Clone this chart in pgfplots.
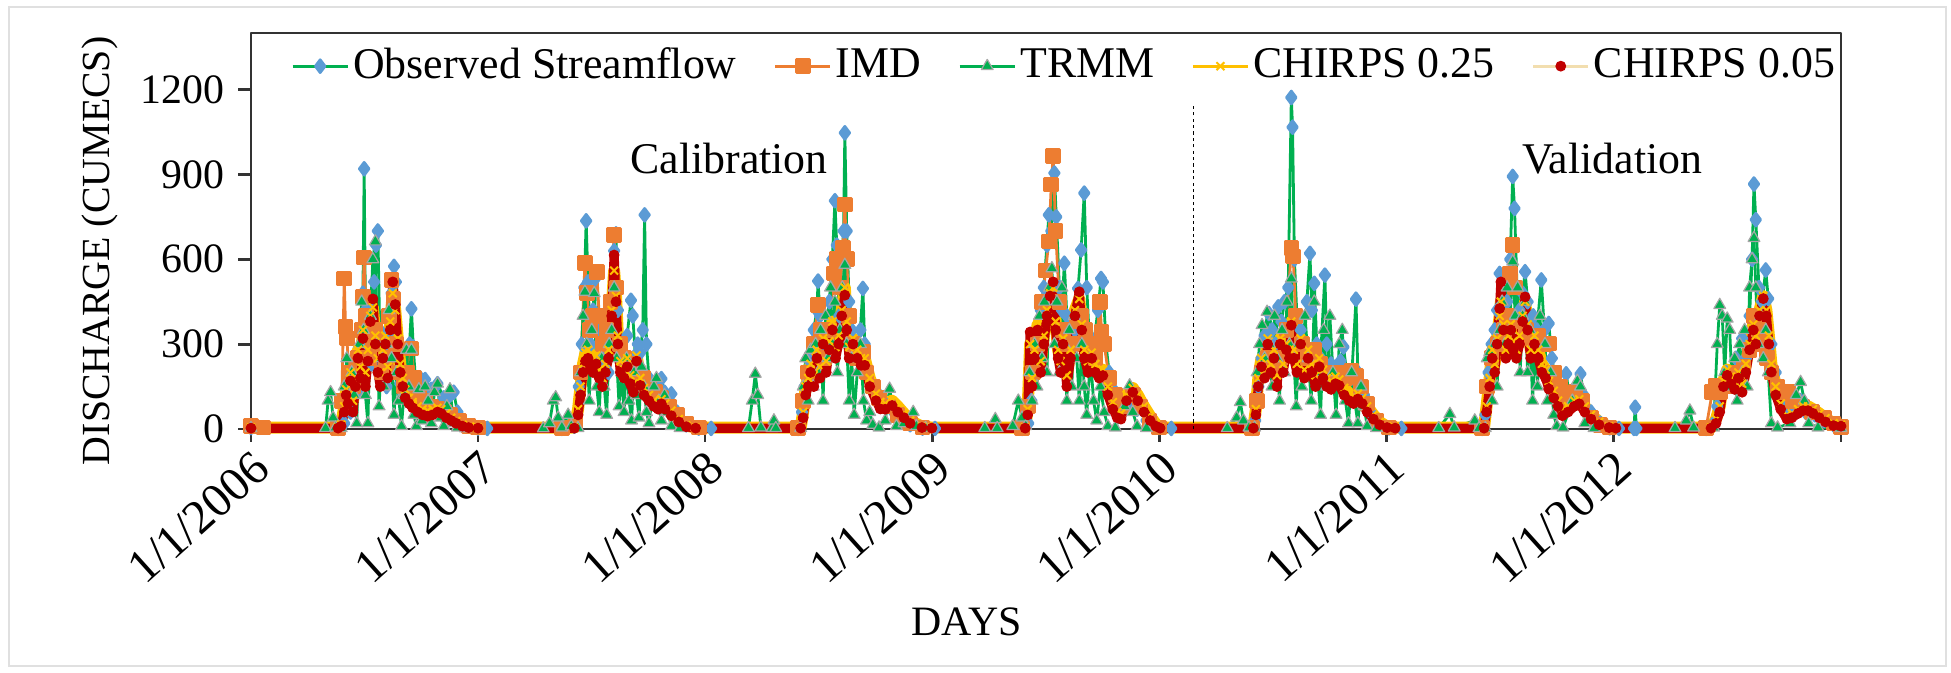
\documentclass[border=0pt]{standalone}
\usepackage{pgfplots}
\pgfplotsset{compat=1.18}
\usepackage{fontspec}
\setmainfont{Liberation Serif}
\definecolor{obsg}{RGB}{0,176,80}
\definecolor{obsb}{RGB}{91,155,213}
\definecolor{imd}{RGB}{237,125,49}
\definecolor{trmm}{RGB}{0,176,80}
\definecolor{ch25}{RGB}{255,192,0}
\definecolor{ch05}{RGB}{192,0,0}
\definecolor{ch05l}{RGB}{242,222,175}
\pgfplotsset{
  thinlegA/.style={legend image code/.code={\draw[mark repeat=2,mark phase=2,##1,line width=0.7bp] plot coordinates {(0bp,0bp) (6.9bp,0bp) (13.8bp,0bp)};}},
  thinlegB/.style={legend image code/.code={\draw[mark repeat=2,mark phase=2,##1,line width=0.7bp,color=ch05l] plot coordinates {(0bp,0bp) (6.9bp,0bp) (13.8bp,0bp)};}},
}
\begin{document}
\begin{tikzpicture}
\path[use as bounding box] (-62.75bp,-61bp) rectangle (425bp,107.25bp);
\draw[black!12, line width=0.5bp] (-60.5bp,-59.25bp) rectangle (423.75bp,105.5bp);
\begin{axis}[
  at={(0,0)}, anchor=south west,
  scale only axis, width=397.5bp, height=99bp,
  xmin=0, xmax=2557, ymin=0, ymax=1400,
  clip=false,
  axis line style={black!80, line width=0.7bp},
  tick style={black!80, line width=0.7bp},
  tick align=outside, major tick length=3.2bp,
  xtick pos=bottom, ytick pos=left,
  xtick={0,365,730,1096,1461,1826,2191,2557},
  xticklabels={1/1/2006,1/1/2007,1/1/2008,1/1/2009,1/1/2010,1/1/2011,1/1/2012,{}},
  ytick={0,300,600,900,1200},
  /pgf/number format/assume math mode=true,
  /pgf/number format/1000 sep={},
  xticklabel style={rotate=42, anchor=north east, font=\fontsize{12}{14}\selectfont, inner sep=1bp},
  yticklabel style={font=\fontsize{10.5}{12}\selectfont},
  xlabel={DAYS},
  xlabel style={at={(axis description cs:0.45,-0.487)}, anchor=center, font=\fontsize{10.5}{12}\selectfont},
  ylabel={DISCHARGE (CUMECS)},
  ylabel style={at={(axis description cs:-0.095,0.45)}, anchor=center, font=\fontsize{10}{12}\selectfont},
  legend columns=5,
  legend style={at={(0.512,0.995)}, anchor=north, draw=none, fill=none,
    font=\fontsize{11}{13}\selectfont, nodes={inner sep=1bp},
    /tikz/every even column/.append style={column sep=8.3bp}},
  legend image code/.code={\draw[mark repeat=2,mark phase=2,#1] plot coordinates {(0bp,0bp) (6.9bp,0bp) (13.8bp,0bp)};},
  line join=round,
]
% Observed Streamflow
\addplot[color=obsg, line width=0.7bp, mark=diamond*, mark size=1.6bp, mark options={fill=obsb, draw=obsb}] coordinates {
(0,5) (140,2) (150,20) (155,120) (160,60) (165,180) (170,250) (175,140) (180,480) (182,920) (184,420) (187,300) (190,450) (194,230) (198,520) (201,650) (204,700) (207,350) (210,200) (214,280) (218,150) (222,330) (226,480) (230,575) (233,520) (236,300) (240,160) (245,120) (250,180) (255,300) (258,425) (261,290) (265,160) (272,180) (280,175) (290,140) (300,160) (310,110) (320,120) (326,130) (332,60) (340,30) (350,10) (365,3)
(380,2) (500,2) (520,10) (527,150) (532,300) (536,500) (539,736) (542,520) (546,300) (550,420) (553,530) (556,545) (560,350) (565,250) (570,300) (575,200) (580,450) (584,630) (587,690) (590,420) (595,250) (600,200) (605,330) (611,455) (614,400) (618,260) (622,300) (626,270) (630,350) (633,757) (636,300) (640,180) (648,160) (655,170) (660,178) (665,130) (676,124) (685,60) (700,15) (720,3)
(740,2) (880,2) (886,60) (890,150) (895,250) (900,200) (905,350) (910,420) (912,523) (915,400) (920,280) (925,350) (930,450) (935,600) (939,807) (942,650) (946,400) (950,600) (953,700) (955,1047) (958,700) (962,450) (966,350) (970,300) (975,250) (980,350) (984,497) (987,300) (992,200) (1000,150) (1010,120) (1020,90) (1030,70) (1045,40) (1060,15) (1080,3)
(1100,2) (1240,2) (1250,20) (1255,100) (1260,200) (1265,300) (1270,420) (1275,500) (1280,650) (1283,757) (1287,700) (1292,905) (1295,750) (1300,500) (1304,420) (1308,586) (1312,400) (1318,300) (1325,350) (1330,497) (1335,633) (1340,834) (1344,500) (1348,330) (1355,300) (1362,420) (1367,532) (1370,520) (1375,300) (1380,200) (1390,130) (1400,80) (1415,100) (1425,70) (1440,30) (1460,5)
(1480,2) (1610,2) (1615,30) (1620,150) (1625,250) (1630,330) (1637,408) (1642,350) (1647,300) (1652,432) (1657,380) (1662,450) (1668,500) (1673,1172) (1675,1067) (1678,600) (1682,400) (1688,350) (1694,300) (1698,450) (1703,621) (1706,420) (1710,515) (1714,300) (1720,250) (1727,544) (1730,300) (1737,230) (1745,200) (1752,240) (1757,290) (1762,200) (1770,180) (1777,459) (1780,200) (1790,120) (1800,60) (1815,20) (1830,4)
(1850,2) (1980,2) (1985,50) (1990,200) (1995,300) (2000,350) (2004,420) (2008,550) (2012,400) (2016,350) (2020,450) (2025,600) (2029,893) (2032,780) (2036,500) (2040,420) (2045,480) (2049,556) (2053,450) (2058,380) (2062,400) (2068,350) (2075,527) (2080,350) (2087,373) (2092,250) (2100,150) (2108,110) (2115,195) (2120,120) (2130,130) (2138,195) (2143,120) (2155,60) (2170,20) (2185,4)
(2200,2) (2224,2) (2226,77) (2228,2) (2340,2) (2352,20) (2358,80) (2365,150) (2372,200) (2380,180) (2388,250) (2398,320) (2404,250) (2410,400) (2414,600) (2417,866) (2420,740) (2425,500) (2430,450) (2436,562) (2440,461) (2445,300) (2452,200) (2460,150) (2470,80) (2480,50) (2492,100) (2500,60) (2515,50) (2530,30) (2545,15) (2557,8)
};
\addlegendentry{Observed Streamflow}
% IMD
\addplot[color=imd, line width=0.7bp, mark=square*, mark size=1.6bp, mark options={fill=imd, draw=imd}] coordinates {
(0,10) (20,5) (140,3) (146,100) (150,532) (152,361) (154,320) (158,200) (165,150) (172,250) (178,350) (180,467) (182,606) (185,400) (190,250) (196,300) (200,350) (205,300) (210,200) (216,250) (222,400) (226,527) (229,460) (233,300) (238,200) (245,150) (252,200) (258,284) (262,180) (270,130) (280,100) (290,80) (300,70) (310,60) (320,50) (335,30) (350,10) (365,5)
(500,3) (522,20) (530,200) (537,586) (540,480) (545,350) (550,400) (556,556) (560,400) (566,300) (572,350) (578,450) (584,686) (588,500) (593,300) (600,250) (608,200) (615,230) (622,200) (630,180) (640,150) (650,130) (660,110) (672,80) (685,50) (700,20) (720,5)
(880,3) (888,100) (895,200) (905,300) (912,438) (916,350) (922,250) (930,350) (937,550) (942,600) (947,500) (952,639) (955,793) (958,600) (962,400) (968,300) (975,250) (984,272) (990,200) (1000,150) (1010,110) (1025,80) (1040,50) (1060,20) (1080,5)
(1240,3) (1250,80) (1258,200) (1265,300) (1272,450) (1278,560) (1283,663) (1287,864) (1290,965) (1294,700) (1300,450) (1306,350) (1312,300) (1320,300) (1328,380) (1335,400) (1342,350) (1350,300) (1358,250) (1365,450) (1368,343) (1372,300) (1380,180) (1390,120) (1400,80) (1418,120) (1430,80) (1445,30) (1460,5)
(1610,3) (1618,100) (1625,200) (1635,250) (1645,220) (1655,250) (1665,350) (1673,639) (1676,610) (1680,400) (1690,300) (1700,250) (1710,280) (1720,230) (1730,200) (1740,180) (1750,200) (1760,180) (1770,207) (1777,189) (1785,150) (1795,90) (1810,30) (1830,5)
(1980,3) (1988,150) (1995,250) (2005,300) (2015,350) (2020,400) (2025,550) (2029,651) (2033,500) (2040,380) (2050,350) (2060,320) (2070,330) (2080,300) (2087,302) (2095,200) (2105,150) (2115,100) (2130,130) (2140,100) (2155,40) (2170,15) (2185,5)
(2340,3) (2350,130) (2356,154) (2362,130) (2370,150) (2380,170) (2390,200) (2400,220) (2410,280) (2417,400) (2425,350) (2432,300) (2438,250) (2445,200) (2455,150) (2465,130) (2472,130) (2480,100) (2495,80) (2510,60) (2530,40) (2545,20) (2557,8)
};
\addlegendentry{IMD}
% TRMM
\addplot[color=trmm, line width=0.7bp, mark=triangle*, mark size=1.7bp, mark options={fill=trmm, draw=black!35, line width=0.3bp}] coordinates {
(0,3) (120,3) (124,100) (128,130) (132,40) (136,5) (145,3) (150,150) (154,250) (158,60) (162,200) (166,120) (170,20) (174,300) (178,450) (181,350) (184,120) (188,20) (192,400) (196,600) (200,663) (203,300) (206,80) (210,250) (214,150) (218,300) (222,420) (226,250) (230,50) (234,200) (238,100) (242,10) (246,120) (250,280) (254,150) (258,280) (262,50) (266,10) (270,140) (275,30) (280,150) (285,100) (290,20) (295,130) (300,160) (305,40) (310,10) (315,80) (320,140) (326,20) (332,5) (345,2)
(470,2) (480,20) (486,100) (490,112) (494,40) (500,5) (510,50) (515,10) (526,3) (530,200) (534,400) (537,485) (540,300) (544,100) (548,350) (552,480) (556,150) (560,60) (564,250) (568,150) (572,50) (576,300) (580,350) (584,500) (588,250) (592,80) (596,200) (600,60) (604,250) (608,100) (612,30) (616,200) (620,120) (624,40) (628,220) (632,150) (636,60) (640,20) (648,150) (652,180) (656,100) (660,30) (665,120) (670,60) (676,10) (690,3)
(800,3) (806,100) (811,195) (815,120) (820,5) (838,3) (841,30) (844,3) (884,3) (888,150) (892,250) (896,100) (900,280) (904,150) (908,300) (912,200) (916,350) (920,100) (924,400) (928,250) (932,500) (935,300) (939,450) (943,200) (947,350) (951,500) (955,580) (958,300) (962,100) (966,250) (970,50) (975,200) (980,300) (985,100) (990,30) (995,60) (1000,15) (1010,5) (1020,30) (1027,142) (1032,80) (1038,10) (1050,20) (1065,60) (1070,10) (1085,3)
(1180,3) (1197,35) (1200,3) (1225,10) (1234,100) (1240,40) (1246,10) (1252,200) (1256,100) (1260,300) (1264,150) (1268,400) (1272,250) (1276,450) (1280,200) (1284,500) (1288,568) (1292,300) (1296,450) (1300,200) (1304,500) (1308,300) (1312,100) (1316,350) (1320,150) (1324,400) (1328,250) (1332,100) (1336,300) (1340,150) (1344,50) (1350,250) (1355,100) (1360,30) (1366,150) (1372,60) (1378,10) (1390,5) (1405,80) (1413,154) (1418,60) (1425,10) (1440,3)
(1570,3) (1585,40) (1591,95) (1596,30) (1605,5) (1614,5) (1618,200) (1622,300) (1626,367) (1630,250) (1634,414) (1638,300) (1642,150) (1646,400) (1650,250) (1654,100) (1658,350) (1662,200) (1666,450) (1670,300) (1673,532) (1677,250) (1681,80) (1685,300) (1690,150) (1695,400) (1700,250) (1705,100) (1710,450) (1715,200) (1720,50) (1725,350) (1730,150) (1735,400) (1740,200) (1745,50) (1750,300) (1755,350) (1760,100) (1765,20) (1770,200) (1775,100) (1780,20) (1785,150) (1790,80) (1795,10) (1810,3)
(1910,3) (1928,53) (1935,5) (1968,30) (1975,3) (1985,3) (1988,250) (1992,272) (1996,100) (2000,300) (2004,150) (2008,350) (2012,450) (2016,300) (2020,500) (2024,350) (2029,592) (2033,400) (2037,500) (2041,200) (2045,400) (2049,450) (2053,200) (2057,350) (2061,100) (2065,300) (2069,150) (2073,400) (2077,200) (2081,300) (2085,100) (2090,200) (2095,50) (2100,10) (2110,5) (2125,100) (2133,170) (2138,150) (2145,20) (2160,3)
(2290,3) (2308,30) (2314,65) (2320,5) (2352,5) (2358,300) (2362,438) (2366,400) (2370,200) (2374,390) (2378,350) (2382,150) (2386,250) (2390,100) (2394,300) (2398,200) (2402,350) (2406,150) (2410,500) (2414,600) (2417,675) (2420,500) (2424,300) (2428,400) (2432,250) (2436,350) (2440,200) (2445,20) (2455,5) (2475,20) (2485,120) (2492,166) (2498,100) (2505,20) (2520,5) (2557,3)
};
\addlegendentry{TRMM}
% CHIRPS 0.25
\addplot[color=ch25, line width=3bp, mark=x, mark size=1.4bp, mark options={draw=ch25, line width=0.5bp}, thinlegA] coordinates {
(0,5) (140,5) (145,15) (150,80) (153,140) (156,120) (160,200) (164,100) (168,180) (172,280) (176,220) (180,350) (184,200) (188,280) (192,400) (196,430) (200,330) (204,250) (208,200) (212,280) (216,330) (220,220) (224,380) (228,480) (232,420) (236,320) (240,230) (244,180) (248,140) (254,110) (260,95) (268,80) (276,70) (284,65) (292,70) (300,75) (306,70) (314,55) (322,40) (330,28) (340,15) (352,8) (365,5)
(520,5) (526,70) (530,150) (534,230) (538,270) (542,280) (546,250) (550,230) (555,260) (560,210) (565,180) (570,230) (575,280) (580,420) (584,560) (587,470) (590,330) (594,240) (600,210) (605,250) (610,190) (615,160) (620,260) (626,180) (632,145) (640,120) (648,100) (655,90) (660,105) (666,90) (676,65) (688,35) (700,12) (715,5)
(884,5) (888,60) (892,150) (896,180) (900,230) (905,190) (910,280) (915,220) (920,320) (925,240) (930,310) (935,380) (940,290) (945,330) (950,420) (955,500) (958,380) (962,290) (968,320) (975,280) (981,250) (987,250) (995,180) (1005,125) (1012,95) (1020,90) (1031,100) (1040,80) (1050,55) (1060,30) (1079,8) (1095,5)
(1245,5) (1249,70) (1253,300) (1256,180) (1260,280) (1265,370) (1270,240) (1275,330) (1280,420) (1285,480) (1290,500) (1294,380) (1298,280) (1302,240) (1306,320) (1312,190) (1318,280) (1325,420) (1332,460) (1336,370) (1340,280) (1346,240) (1352,270) (1358,230) (1364,210) (1370,210) (1378,150) (1386,95) (1393,60) (1399,55) (1408,120) (1418,145) (1426,120) (1436,80) (1446,45) (1455,18) (1462,5)
(1612,5) (1616,70) (1620,180) (1625,250) (1630,210) (1635,320) (1640,230) (1645,280) (1650,190) (1655,320) (1660,230) (1665,300) (1670,280) (1673,380) (1677,280) (1682,230) (1688,320) (1694,210) (1700,280) (1706,230) (1712,190) (1718,250) (1724,210) (1730,180) (1737,170) (1744,185) (1750,175) (1758,145) (1766,125) (1773,115) (1780,125) (1787,110) (1795,80) (1805,50) (1815,25) (1827,8) (1840,5)
(1983,5) (1987,80) (1992,180) (1996,280) (2000,230) (2004,320) (2008,400) (2010,450) (2014,370) (2018,280) (2022,330) (2026,370) (2030,310) (2035,280) (2040,330) (2045,400) (2049,450) (2053,370) (2058,280) (2064,330) (2070,280) (2076,230) (2082,210) (2087,170) (2095,135) (2102,100) (2109,70) (2118,80) (2128,100) (2136,105) (2145,80) (2155,50) (2168,25) (2184,8) (2195,5)
(2348,5) (2356,35) (2362,80) (2368,170) (2374,210) (2380,185) (2386,165) (2392,200) (2398,160) (2404,230) (2410,300) (2416,370) (2420,330) (2426,420) (2432,470) (2437,420) (2441,330) (2445,230) (2452,150) (2460,90) (2470,50) (2478,55) (2488,70) (2496,80) (2504,80) (2512,70) (2522,55) (2532,38) (2545,20) (2557,15)
};
\addlegendentry{CHIRPS 0.25}
% CHIRPS 0.05
\addplot[color=ch05, line width=2.3bp, mark=*, mark size=1.2bp, mark options={fill=ch05, draw=ch05, line width=0.3bp}, thinlegB] coordinates {
(0,3) (140,3) (145,10) (150,60) (153,120) (156,90) (160,170) (164,60) (168,150) (172,250) (176,180) (180,320) (184,150) (188,240) (192,380) (196,460) (200,300) (204,200) (208,150) (212,250) (216,300) (220,180) (224,350) (228,520) (232,440) (236,300) (240,200) (244,150) (248,110) (254,90) (260,75) (268,60) (276,50) (284,45) (292,50) (300,60) (306,55) (314,40) (322,30) (330,20) (340,10) (350,5) (365,3)
(520,3) (526,50) (530,120) (534,200) (538,240) (542,250) (546,220) (550,200) (555,230) (560,180) (565,150) (570,200) (575,250) (580,400) (584,615) (587,450) (590,300) (594,200) (600,180) (605,220) (610,160) (615,130) (620,240) (626,154) (632,120) (640,100) (648,80) (655,70) (660,89) (666,70) (676,47) (688,25) (700,8) (715,3)
(884,3) (888,40) (892,120) (896,150) (900,200) (905,150) (910,250) (915,180) (920,300) (925,200) (930,280) (935,350) (940,250) (945,300) (950,400) (955,473) (958,350) (962,250) (968,300) (975,250) (981,225) (987,225) (995,150) (1005,100) (1012,71) (1020,70) (1031,83) (1040,60) (1050,40) (1060,20) (1079,5) (1095,3)
(1245,3) (1249,50) (1253,343) (1256,150) (1260,250) (1265,350) (1270,200) (1275,300) (1280,400) (1285,470) (1290,520) (1294,350) (1298,250) (1302,200) (1306,300) (1312,150) (1318,250) (1325,400) (1332,485) (1336,350) (1340,250) (1346,200) (1352,250) (1358,200) (1364,180) (1370,189) (1378,120) (1386,70) (1393,40) (1399,35) (1408,100) (1418,130) (1426,100) (1436,60) (1446,30) (1455,10) (1462,3)
(1612,3) (1616,50) (1620,150) (1625,220) (1630,180) (1635,300) (1640,200) (1645,250) (1650,150) (1655,300) (1660,200) (1665,280) (1670,250) (1673,367) (1677,250) (1682,200) (1688,300) (1694,180) (1700,250) (1706,200) (1712,150) (1718,220) (1724,180) (1730,150) (1737,140) (1744,160) (1750,154) (1758,120) (1766,100) (1773,90) (1780,106) (1787,90) (1795,60) (1805,35) (1815,15) (1827,5) (1840,3)
(1983,3) (1987,60) (1992,150) (1996,250) (2000,200) (2004,300) (2008,426) (2010,520) (2014,350) (2018,250) (2022,300) (2026,350) (2030,280) (2035,250) (2040,300) (2045,380) (2049,467) (2053,350) (2058,250) (2064,300) (2070,250) (2076,200) (2082,180) (2087,142) (2095,110) (2102,80) (2109,47) (2118,60) (2128,80) (2136,89) (2145,60) (2155,35) (2168,15) (2184,5) (2195,3)
(2348,3) (2356,20) (2362,60) (2368,150) (2374,190) (2380,160) (2386,140) (2392,180) (2398,130) (2404,200) (2410,280) (2416,350) (2420,300) (2426,400) (2432,461) (2437,400) (2441,300) (2445,201) (2452,120) (2460,70) (2470,35) (2478,40) (2488,55) (2496,65) (2504,65) (2512,55) (2522,40) (2532,25) (2545,12) (2557,10)
};
\addlegendentry{CHIRPS 0.05}
% divider
\addplot[black, line width=0.4bp, dash pattern=on 0.8bp off 0.8bp, forget plot] coordinates {(1516,0) (1516,1150)};
\node[font=\fontsize{11}{13}\selectfont] at (axis cs:769,958) {Calibration};
\node[font=\fontsize{11}{13}\selectfont] at (axis cs:2189,955) {Validation};
\end{axis}
\end{tikzpicture}
\end{document}
